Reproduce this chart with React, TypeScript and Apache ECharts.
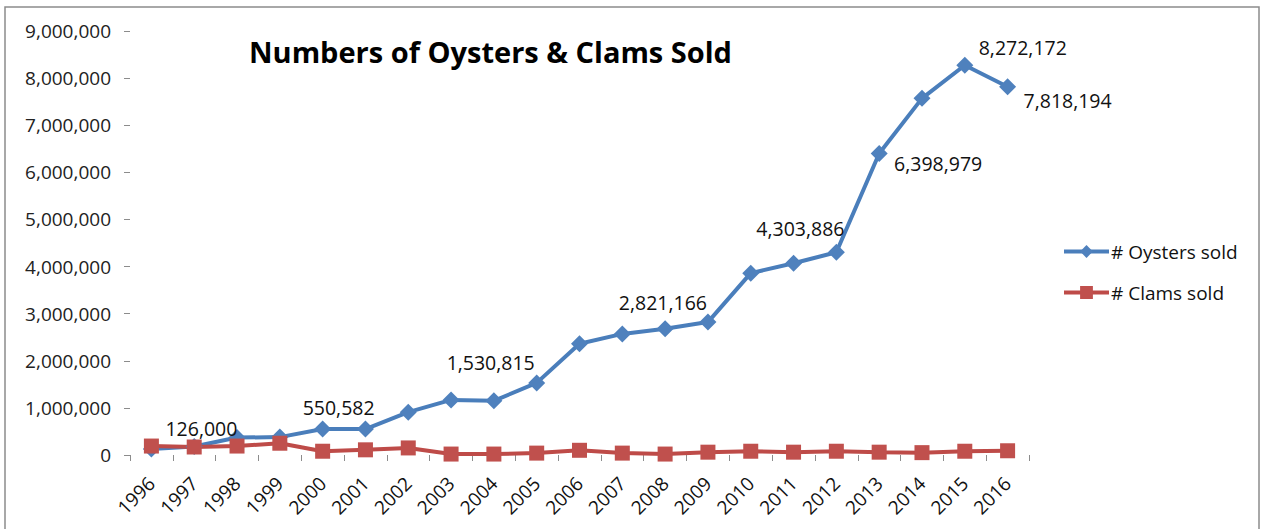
import React, { useEffect, useRef } from "react";
import * as echarts from "echarts";

const years = [
  "1996", "1997", "1998", "1999", "2000", "2001", "2002", "2003", "2004", "2005", "2006",
  "2007", "2008", "2009", "2010", "2011", "2012", "2013", "2014", "2015", "2016",
];
const oystersSold = [
  126000, 180000, 370000, 380000, 550582, 550000, 910000, 1170000, 1150000, 1530815, 2360000,
  2570000, 2680000, 2821166, 3860000, 4070000, 4303886, 6398979, 7570000, 8272172, 7818194,
];
const clamsSold = [
  190000, 170000, 190000, 250000, 80000, 110000, 150000, 20000, 20000, 40000, 100000,
  40000, 20000, 60000, 80000, 60000, 80000, 60000, 50000, 80000, 90000,
];
const yTicks = { min: 0, max: 9000000, interval: 1000000 };
const seriesNames = ["# Oysters sold", "# Clams sold"];
const titleText = "Numbers of Oysters & Clams Sold";

const fmt = (v: number) => Math.round(v).toLocaleString("en-US");

export default function App() {
  const ref = useRef<HTMLDivElement>(null);
  useEffect(() => {
    if (!ref.current) return;
    const chart = echarts.init(ref.current, undefined, { renderer: "svg" });
    const font = "'Open Sans', sans-serif";

    // label placement (offset from the point centre, px), by year
    const labelOffsets: Record<string, [number, number]> = {
      "1996": [50, -21],
      "2000": [16, -22],
      "2005": [-46, -20],
      "2009": [-45, -20],
      "2012": [-36, -24],
      "2013": [59, 10],
      "2015": [58, -18],
      "2016": [60, 14],
    };

    const oysterData = oystersSold.map((v, i) => {
      const off = labelOffsets[years[i]];
      if (!off) return v;
      return {
        value: v,
        label: {
          show: true,
          position: "inside",
          offset: off,
          formatter: (p: any) => fmt(p.value),
          color: "#111",
          fontSize: 19.5,
          fontFamily: font,
        },
      };
    });

    chart.setOption({
      animation: false,
      backgroundColor: "#ffffff",
      title: {
        text: titleText,
        left: 244,
        top: 32,
        textStyle: { fontFamily: font, fontWeight: "bold", fontSize: 29, color: "#000" },
      },
      graphic: [
        {
          type: "rect",
          shape: { x: 5, y: 7, width: 1254, height: 540 },
          style: { fill: "none", stroke: "#8c8c8c", lineWidth: 1.5 },
          silent: true,
        },
      ],
      legend: {
        orient: "vertical",
        left: 1057,
        top: 237,
        itemWidth: 45,
        itemHeight: 16,
        itemGap: 22,
        data: seriesNames,
        lineStyle: { width: 4 },
        textStyle: { fontFamily: font, fontSize: 19, color: "#111", padding: [0, 0, 0, -3] },
      },
      grid: { left: 130, right: 233, top: 31, bottom: 74 },
      xAxis: {
        type: "category",
        data: years,
        boundaryGap: true,
        axisLine: { show: false },
        axisTick: { show: true, length: 6, lineStyle: { color: "#8c8c8c" } },
        axisLabel: {
          rotate: 45,
          interval: 0,
          margin: 25,
          fontFamily: font,
          fontSize: 19,
          color: "#111",
        },
      },
      yAxis: {
        type: "value",
        min: yTicks.min,
        max: yTicks.max,
        interval: yTicks.interval,
        splitLine: { show: false },
        axisLine: { show: false },
        axisTick: { show: true, length: 6, lineStyle: { color: "#8c8c8c" } },
        axisLabel: {
          margin: 19,
          fontFamily: font,
          fontSize: 19,
          color: "#222",
          formatter: (v: number) => fmt(v),
        },
      },
      series: [
        {
          name: seriesNames[0],
          type: "line",
          data: oysterData,
          symbol: "diamond",
          symbolSize: 17,
          color: "#4F81BD",
          lineStyle: { width: 4, color: "#4A7EBB" },
          itemStyle: { color: "#4F81BD" },
          label: { show: false },
        },
        {
          name: seriesNames[1],
          type: "line",
          data: clamsSold,
          symbol: "rect",
          symbolSize: 15,
          color: "#C0504D",
          lineStyle: { width: 4, color: "#BE4B48" },
          itemStyle: { color: "#C0504D" },
        },
      ],
    });
    return () => chart.dispose();
  }, []);
  return (
    <div
      ref={ref}
      style={{ position: "absolute", left: 0, top: 0, width: 1262, height: 529 }}
    />
  );
}
